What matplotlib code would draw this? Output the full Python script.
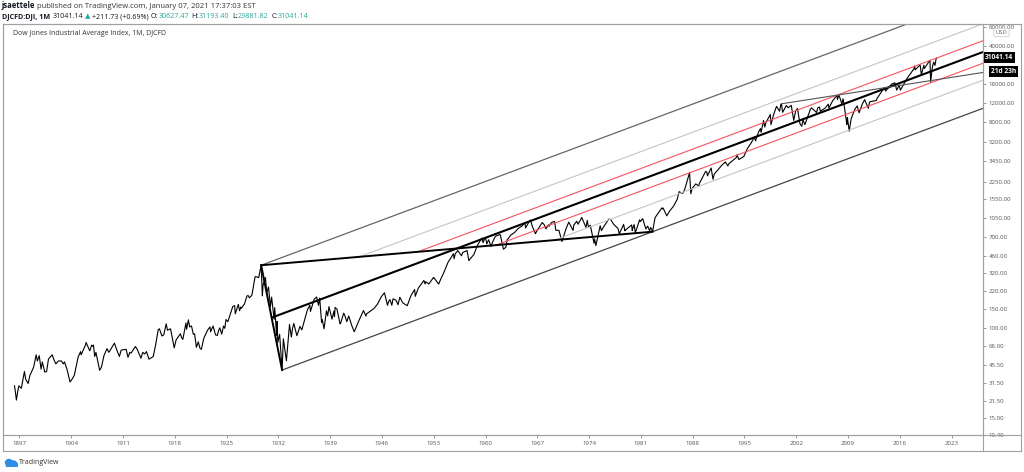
import numpy as np
import pandas as pd
import matplotlib
matplotlib.use("Agg")
import matplotlib.pyplot as plt
import matplotlib.transforms as mtransforms
from matplotlib.lines import Line2D
from matplotlib.patches import Ellipse, Rectangle

plt.rcParams['font.family'] = ['Open Sans', 'DejaVu Sans']

# Dow Jones monthly swing points (month, value)
dj_months = [
    '1896-05', '1896-08', '1896-10', '1896-12', '1897-04', '1897-09', '1897-11',
    '1898-03', '1898-06', '1898-08', '1898-12', '1899-04', '1899-06', '1899-09', '1899-12',
    '1900-02', '1900-06', '1900-09', '1900-12', '1901-06', '1901-09', '1901-12',
    '1902-04', '1902-09', '1902-12', '1903-02', '1903-06', '1903-11',
    '1904-03', '1904-06', '1904-12', '1905-04', '1905-05', '1905-12',
    '1906-01', '1906-07', '1906-10', '1906-12', '1907-01', '1907-03', '1907-05', '1907-11',
    '1908-02', '1908-06', '1908-11', '1909-02', '1909-11', '1910-02', '1910-07', '1910-10',
    '1911-06', '1911-09', '1911-12', '1912-02', '1912-09', '1912-12', '1913-06', '1913-09',
    '1913-12', '1914-03', '1914-07', '1914-12', '1915-02', '1915-06', '1915-10', '1915-12',
    '1916-04', '1916-07', '1916-11', '1917-01', '1917-06', '1917-12', '1918-03', '1918-10',
    '1918-12', '1919-02', '1919-07', '1919-08', '1919-11', '1920-01', '1920-04', '1920-07',
    '1920-09', '1920-12', '1921-03', '1921-06', '1921-08', '1921-12', '1922-06', '1922-10',
    '1922-11', '1923-03', '1923-07', '1923-10', '1923-12', '1924-02', '1924-05', '1924-08',
    '1924-10', '1924-12', '1925-03', '1925-06', '1925-11', '1926-02', '1926-03', '1926-08',
    '1926-10', '1926-12', '1927-01', '1927-06', '1927-10', '1927-12', '1928-02', '1928-06',
    '1928-11', '1928-12', '1929-05', '1929-09', '1929-11', '1929-12', '1930-04', '1930-06',
    '1930-09', '1930-12', '1931-02', '1931-06', '1931-07', '1931-10', '1931-11', '1931-12',
    '1932-03', '1932-07', '1932-09', '1932-12', '1933-02', '1933-07', '1933-10', '1933-12',
    '1934-02', '1934-07', '1934-12', '1935-03', '1935-12', '1936-04', '1936-05', '1936-11',
    '1937-03', '1937-06', '1937-08', '1937-11', '1937-12', '1938-03', '1938-07', '1938-09',
    '1938-11', '1939-04', '1939-07', '1939-08', '1939-09', '1939-12', '1940-05', '1940-06',
    '1940-11', '1941-01', '1941-04', '1941-07', '1941-12', '1942-04', '1942-12', '1943-07',
    '1943-11', '1943-12', '1944-12', '1945-06', '1945-12', '1946-05', '1946-10', '1946-12',
    '1947-02', '1947-05', '1947-07', '1947-12', '1948-03', '1948-06', '1948-11', '1949-06',
    '1949-12', '1950-06', '1950-07', '1950-12', '1951-09', '1951-11', '1951-12', '1952-05',
    '1952-12', '1953-01', '1953-09', '1953-12', '1954-06', '1954-12', '1955-09', '1955-10',
    '1955-12', '1956-04', '1956-10', '1956-12', '1957-07', '1957-10', '1957-12', '1958-06',
    '1958-12', '1959-07', '1959-09', '1959-12', '1960-01', '1960-03', '1960-06', '1960-10',
    '1960-12', '1961-05', '1961-12', '1962-01', '1962-06', '1962-10', '1962-12', '1963-06',
    '1963-12', '1964-06', '1964-12', '1965-05', '1965-06', '1965-12', '1966-02', '1966-05',
    '1966-10', '1966-12', '1967-09', '1967-12', '1968-03', '1968-07', '1968-08', '1968-12',
    '1969-05', '1969-07', '1969-12', '1970-05', '1970-12', '1971-04', '1971-11', '1971-12',
    '1972-05', '1972-07', '1972-12', '1973-01', '1973-08', '1973-10', '1973-12', '1974-03',
    '1974-09', '1974-10', '1974-12', '1975-07', '1975-09', '1975-12', '1976-09', '1976-12',
    '1977-05', '1977-12', '1978-02', '1978-09', '1978-11', '1978-12', '1979-10', '1979-11',
    '1979-12', '1980-02', '1980-04', '1980-11', '1980-12', '1981-04', '1981-09', '1981-12',
    '1982-03', '1982-05', '1982-08', '1982-12', '1983-11', '1983-12', '1984-01', '1984-07',
    '1984-12', '1985-06', '1985-12', '1986-03', '1986-07', '1986-09', '1986-12', '1987-08',
    '1987-10', '1987-12', '1988-06', '1988-11', '1988-12', '1989-10', '1989-12', '1990-01',
    '1990-07', '1990-10', '1990-12', '1991-12', '1992-06', '1992-10', '1992-12', '1993-12',
    '1994-01', '1994-04', '1994-12', '1995-06', '1995-12', '1996-05', '1996-07', '1996-12',
    '1997-03', '1997-04', '1997-08', '1997-10', '1997-12', '1998-07', '1998-08', '1998-12',
    '1999-05', '1999-10', '1999-12', '2000-01', '2000-03', '2000-09', '2000-12', '2001-05',
    '2001-09', '2001-12', '2002-03', '2002-07', '2002-10', '2002-12', '2003-03', '2003-12',
    '2004-02', '2004-10', '2004-12', '2005-03', '2005-04', '2005-12', '2006-05', '2006-06',
    '2006-12', '2007-07', '2007-08', '2007-10', '2007-12', '2008-03', '2008-05', '2008-07',
    '2008-10', '2008-11', '2008-12', '2009-03', '2009-06', '2009-12', '2010-04', '2010-07',
    '2010-12', '2011-04', '2011-10', '2011-12', '2012-05', '2012-11', '2012-12', '2013-12',
    '2014-02', '2014-12', '2015-05', '2015-08', '2015-12', '2016-02', '2016-12', '2017-12',
    '2018-01', '2018-02', '2018-10', '2018-12', '2019-04', '2019-05', '2019-12', '2020-02',
    '2020-03', '2020-06', '2020-08', '2020-10', '2020-12', '2021-01',
]
dj_values = [
    29.5, 21.8, 26, 29.5, 28, 40, 34,
    31, 37, 39, 44, 57, 50, 56, 42,
    49, 39.5, 40, 52, 57, 51, 47,
    50, 50, 47, 49, 42, 32,
    34.5, 37, 54, 61, 57, 70,
    74, 62, 70, 68, 70, 55, 60, 41,
    44, 56, 65, 60, 73, 65, 55, 63,
    64, 54, 60, 59, 68, 64, 53, 60,
    58, 61, 52, 54, 55, 71, 97, 99,
    85, 87, 110, 96, 99, 66, 78, 89,
    82, 79, 112, 98, 119.6, 103, 105, 88,
    89, 66.8, 75, 65, 64, 81, 96, 103,
    93, 105, 87, 86, 95.5, 101, 88.3, 105,
    100, 120.5, 115, 130, 159, 162, 136, 166,
    145, 157, 153, 168, 199, 200, 191, 202,
    295, 300, 293, 381.17, 199, 248, 294, 212,
    240, 158, 194, 121, 155, 86, 116, 74,
    88, 41.22, 80, 60, 50.2, 108.7, 83, 100,
    110.7, 85.5, 104, 96.7, 148, 163, 143, 184.9,
    194.4, 163, 190, 113.6, 121, 99, 145, 130,
    158.4, 121.4, 144, 128, 155.9, 150, 110, 112,
    138, 130, 115, 130, 106, 92.9, 119, 145.8,
    129.6, 135.9, 152, 168, 195.8, 212.5, 163, 177,
    184, 163, 187, 181, 165, 193, 171, 161.6,
    200, 228, 197, 235, 276, 256, 269, 256,
    291, 293.8, 255.5, 281, 333, 404, 487, 438,
    488, 521, 466, 499.5, 520.8, 419.8, 435.7, 478,
    583.6, 678, 616, 679, 685, 599, 655, 566,
    616, 705, 731, 726, 535.8, 558, 652, 723,
    763, 832, 874, 940, 840, 969, 995, 865,
    744, 786, 943, 905, 825, 900, 870, 944,
    968, 801, 800, 631, 839, 951, 798, 890,
    970, 910, 1020, 1052, 851, 987, 851, 891,
    608, 666, 578, 881, 794, 852, 1015, 1005,
    907, 831, 742, 907, 792, 805, 897, 796,
    839, 903, 759, 1000, 964, 1024, 824, 875,
    795, 850, 776.92, 1047, 1287, 1259, 1286, 1087,
    1212, 1335, 1547, 1818, 1764, 1755, 1896, 2722,
    1739, 1939, 2142, 2054, 2169, 2791, 2753, 2543,
    3000, 2365, 2634, 3169, 3413, 3137, 3301, 3754,
    3978, 3593, 3834, 4556, 5117, 5778, 5346, 6448,
    6935, 6391, 8222, 7161, 7908, 9337, 7539, 9181,
    11107, 10019, 11497, 11723, 9796, 11310, 10787, 11337,
    8236, 10021, 10635, 7702, 7286, 8342, 7524, 10454,
    10737, 9750, 10783, 10940, 10012, 10718, 11642, 10706,
    12463, 14000, 12845, 14164, 13265, 11740, 13058, 11100,
    8451, 7552, 8776, 6547, 8500, 10428, 11205, 9686,
    11578, 12810, 10655, 12218, 12393, 12588, 13104, 16577,
    15373, 17823, 18312, 15666, 17425, 15660, 19763, 24719,
    26149, 24103, 26828, 21712, 26593, 24815, 28538, 29568,
    18591, 25812, 28430, 26501, 30606, 31041.14,
]

# drawing anchors: 1929 high, 1932 low, 1982 low, 2000 high, 2007 high
anchor_months = ['1929-09', '1932-07', '1982-08', '2000-01', '2007-10']
anchor_values = [381.17, 41.22, 776.92, 11723, 14164]
level_fracs = [0.2, 0.5]
level_colors = ['#f7525f', '#c4c4c4']

ytick_values = [10.40, 15.00, 21.50, 31.50, 45.50, 68.00, 100.00, 150.00, 220.00,
                320.00, 460.00, 700.00, 1050.00, 1550.00, 2250.00, 3450.00, 5200.00,
                8000.00, 12000.00, 18000.00, 40000.00, 60000.00]
xtick_years = list(range(1897, 2024, 7))
last_price = 31041.14


def to_year(m):
    d = pd.Timestamp(m)
    return d.year + (d.month - 1) / 12.0


W, H = 1024, 472
fig = plt.figure(figsize=(W / 100, H / 100), dpi=100)
ax = fig.add_axes([3 / W, 1 - 435 / H, 980 / W, (435 - 23.5) / H])

t = np.array([to_year(m) for m in dj_months])
v = np.array(dj_values)
ax.plot(t, v, color='black', lw=0.8)

ax.set_yscale('log')
x0, x1 = 1894.77, 2027.25
ax.set_xlim(x0, x1)
ax.set_ylim(10.39, 64450)

# pitchfork in (time, log10 price) space
at = np.array([to_year(m) for m in anchor_months])
al = np.log10(anchor_values)
B = np.array([at[0], al[0]])
L32 = np.array([at[1], al[1]])
C = np.array([at[2], al[2]])
A = (B + L32) / 2
M = (B + C) / 2
slope = (M[1] - A[1]) / (M[0] - A[0])


def ray(p, color, lw):
    xs = np.array([p[0], x1])
    ys = p[1] + slope * (xs - p[0])
    ax.plot(xs, 10 ** ys, color=color, lw=lw, solid_capstyle='butt')


for f, col in zip(level_fracs, level_colors):
    ray(M + f * (B - M), col, 0.8)
    ray(M + f * (C - M), col, 0.8)
ray(B, '#666666', 0.9)
ray(L32, '#444444', 0.9)
ray(A, 'black', 1.5)
ax.plot([B[0], L32[0]], 10 ** np.array([B[1], L32[1]]), color='black', lw=1.4)
ax.plot([B[0], C[0]], 10 ** np.array([B[1], C[1]]), color='black', lw=1.4)

# 2000 -> 2007 highs trendline, extended
s2 = (al[4] - al[3]) / (at[4] - at[3])
ax.plot([at[3], x1], 10 ** np.array([al[3], al[3] + s2 * (x1 - at[3])]),
        color='#555555', lw=0.8)

# axes styling
frame_col = '#a0a0a0'
for sp in ax.spines.values():
    sp.set_color(frame_col)
    sp.set_linewidth(0.8)
ax.yaxis.tick_right()
ax.yaxis.set_minor_locator(matplotlib.ticker.NullLocator())
ax.set_yticks(ytick_values)
ax.set_yticklabels(['%.2f' % y for y in ytick_values])
ax.set_xticks(xtick_years)
ax.set_xticklabels([str(y) for y in xtick_years])
ax.tick_params(axis='both', direction='out', length=2, width=0.6, color='#888888',
               labelsize=4.4, labelcolor='#555555', pad=2.5)
ax.tick_params(axis='y', pad=2)

ax.text(10 / 980, 1 - 10 / 411.5, 'Dow Jones Industrial Average Index, 1M, DJCFD',
        transform=ax.transAxes, fontsize=5.0, color='#333333', va='center', ha='left')

# last price and countdown labels
blend = mtransforms.blended_transform_factory(ax.transAxes, ax.transData)
ax.text(1.002, last_price, '31041.14', transform=blend, va='center', ha='left',
        color='white', fontsize=4.8, weight='bold', clip_on=False,
        bbox=dict(boxstyle='square,pad=0.3', fc='black', ec='none'))
ax.annotate('21d 23h', xy=(1.0, last_price), xycoords=blend, xytext=(5.5, -9.5),
            textcoords='offset points', va='center', ha='left', color='white',
            fontsize=4.8, weight='bold', annotation_clip=False,
            bbox=dict(boxstyle='square,pad=0.3', fc='black', ec='none'))
fig.text(1001.5 / W, 1 - 32.5 / H, 'USD', fontsize=4.2, color='#666666', ha='center',
         va='center', bbox=dict(boxstyle='round,pad=0.3', fc='white', ec='#cccccc', lw=0.6))

# outer frame and separators
for (xa, ya, xb, yb) in [(3, 23.5, 1021, 23.5), (3, 451, 1021, 451), (3, 23.5, 3, 451),
                         (1021, 23.5, 1021, 451), (983, 23.5, 983, 451), (3, 435, 1021, 435)]:
    fig.add_artist(Line2D([xa / W, xb / W], [1 - ya / H, 1 - yb / H], color=frame_col, lw=0.8))

# header lines
fig.canvas.draw()
renderer = fig.canvas.get_renderer()


def chain(x, y, pieces, size):
    # pieces: (text, colour, weight, gap after)
    for s, col, wt, gap in pieces:
        txt = fig.text(x / W, 1 - y / H, s, fontsize=size, color=col, weight=wt,
                       va='center', ha='left')
        bb = txt.get_window_extent(renderer)
        x = bb.x1 + gap


dark = '#131722'
teal = '#26a69a'
chain(2, 6, [('jsaettele', dark, 'bold', 2.0),
             ('published on TradingView.com, January 07, 2021 17:37:03 EST', '#333333', 'normal', 0)],
      5.5)
chain(2, 16.5, [('DJCFD:DJI, 1M', dark, 'bold', 2.5), ('31041.14', dark, 'normal', 1.5),
                ('\u25b2', teal, 'normal', 1.5), ('+211.73 (+0.69%)', dark, 'normal', 2.5),
                ('O:', dark, 'normal', 0.3), ('30627.47', teal, 'normal', 2.5),
                ('H:', dark, 'normal', 0.3), ('31193.40', teal, 'normal', 2.5),
                ('L:', dark, 'normal', 0.3), ('29881.82', teal, 'normal', 2.5),
                ('C:', dark, 'normal', 0.3), ('31041.14', teal, 'normal', 0)],
      5.1)

# TradingView footer with a small cloud mark
logo = fig.add_axes([4 / W, 1 - 467 / H, 14 / W, 9 / H])
logo.set_xlim(0, 14)
logo.set_ylim(0, 9)
logo.axis('off')
logo.add_patch(Ellipse((5, 4.5), 7, 6, color='#2d8ee6'))
logo.add_patch(Ellipse((9.5, 3.5), 6, 5, color='#2d8ee6'))
logo.add_patch(Rectangle((1.5, 1), 11, 3, color='#2d8ee6'))
fig.text(19 / W, 1 - 462 / H, 'TradingView', fontsize=5.0, color='#333333', va='center')

fig.savefig('out.png', dpi=100)
